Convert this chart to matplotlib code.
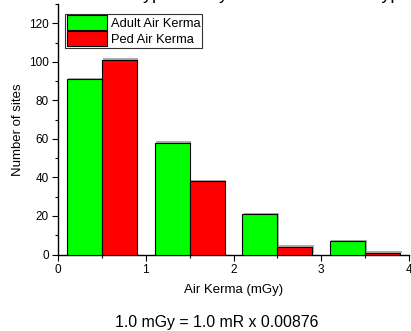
import numpy as np
import matplotlib
matplotlib.use('Agg')
import matplotlib.pyplot as plt
import matplotlib.patheffects as pe
from matplotlib.ticker import MultipleLocator

plt.rcParams['font.family'] = ['Liberation Sans', 'DejaVu Sans']

# Data
bin_left = [0.1, 1.1, 2.1, 3.1]
adult_kerma = [91, 58, 21, 7]
ped_kerma = [101, 38, 4, 1]
bar_w = 0.4

fig = plt.figure(figsize=(4.11, 3.31), dpi=100)
ax = fig.add_axes([58 / 411, 1 - 254.5 / 331, (409 - 58) / 411, (254.5 - 4) / 331])

shadow = [pe.SimplePatchShadow(offset=(1, 1), shadow_rgbFace='#999999', alpha=0.8), pe.Normal()]
x = np.array(bin_left)
ax.bar(x, adult_kerma, width=bar_w, align='edge', color='#00ff00',
       edgecolor='black', linewidth=0.8, label='Adult Air Kerma', zorder=3,
       path_effects=shadow)
ax.bar(x + bar_w, ped_kerma, width=bar_w, align='edge', color='#ff0000',
       edgecolor='black', linewidth=0.8, label='Ped Air Kerma', zorder=3,
       path_effects=shadow)

ax.set_xlim(0, 4)
ax.set_ylim(0, 130)
ax.xaxis.set_major_locator(MultipleLocator(1))
ax.xaxis.set_minor_locator(MultipleLocator(0.5))
ax.yaxis.set_major_locator(MultipleLocator(20))
ax.yaxis.set_minor_locator(MultipleLocator(10))
ax.spines['top'].set_visible(False)
ax.spines['right'].set_visible(False)
for s in ['left', 'bottom']:
    ax.spines[s].set_linewidth(1.0)
ax.tick_params(which='major', direction='out', length=4.5, width=0.8, labelsize=8.5, pad=2)
ax.tick_params(which='minor', direction='out', length=2.5, width=0.8)

ax.set_xlabel('Air Kerma (mGy)', fontsize=9.5, labelpad=6)
ax.set_ylabel('Number of sites', fontsize=9.5, labelpad=4)

leg = ax.legend(loc='upper left', bbox_to_anchor=(0.02, 0.962), fontsize=9.3,
                frameon=True, fancybox=False, edgecolor='black',
                handlelength=3.1, handleheight=1.4, handletextpad=0.3,
                borderpad=0.15, labelspacing=0.08, borderaxespad=0)
leg.get_frame().set_linewidth(0.8)
for h in leg.legend_handles:
    h.set_path_effects([pe.Normal()])

# title is cut off by the top edge, only the descenders show
fig.text(4.5 / 411, 1 + 1.5 / 331, 'Kerma for exam type. Study Adult vs. Ped site type',
         ha='left', va='baseline', fontsize=13)

fig.text(217 / 411, 1 - 322 / 331, '1.0 mGy = 1.0 mR x 0.00876',
         ha='center', va='center', fontsize=11.4)

fig.savefig('out.png', dpi=100)
